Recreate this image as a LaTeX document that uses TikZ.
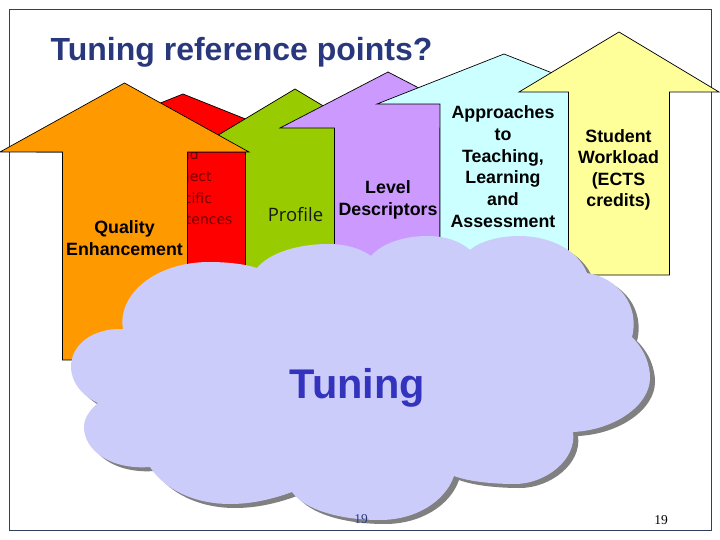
\documentclass[tikz,border=0pt]{standalone}
\usepackage{fontspec}
\setmainfont{Liberation Sans}
\newfontfamily\thinfont{Open Sans}
\newfontfamily\widefont{DejaVu Sans}
\newfontfamily\numfont{Liberation Serif}
\definecolor{titleblue}{RGB}{41,56,124}
\definecolor{framegrey}{RGB}{50,62,92}
\definecolor{tuningblue}{RGB}{51,51,190}
\definecolor{cloudfill}{RGB}{204,204,250}
\definecolor{arrowred}{RGB}{255,0,0}
\definecolor{arroworange}{RGB}{255,153,0}
\definecolor{arrowgreen}{RGB}{153,204,0}
\definecolor{arrowpurple}{RGB}{204,153,255}
\definecolor{arrowcyan}{RGB}{204,255,255}
\definecolor{arrowyellow}{RGB}{255,255,153}
\tikzset{
  refarrow/.style={draw=black, line width=0.7pt, line join=miter},
  boldlabel/.style={align=center, inner sep=0pt, font=\bfseries\fontsize{17.8}{21.6}\selectfont, text=black},
  thinlabel/.style={align=center, inner sep=0pt, font=\widefont\fontsize{14}{21.8}\selectfont},
  pagenum/.style={anchor=base, inner sep=0pt, font=\numfont\fontsize{13.5}{15}\selectfont}
}
\newcommand{\cloudoutline}{
  (123,329) .. controls (117,295) and (155,262) .. (209,262) .. controls (227,262) and (245,264) .. (257,268)
  .. controls (270,252) and (300,244) .. (328,244) .. controls (345,244) and (360,248) .. (371,256)
  .. controls (382,243) and (405,236) .. (427,236) .. controls (445,236) and (460,241) .. (470,250)
  .. controls (480,241) and (500,236) .. (519,236) .. controls (550,236) and (578,250) .. (587,273)
  .. controls (618,278) and (640,305) .. (632,337)
  .. controls (645,350) and (650,365) .. (650,378) .. controls (650,405) and (615,430) .. (573,432)
  .. controls (577,460) and (545,484) .. (515,484) .. controls (495,484) and (470,482) .. (454,476)
  .. controls (445,502) and (415,520) .. (380,520) .. controls (340,520) and (305,510) .. (292,492)
  .. controls (270,500) and (250,504) .. (230,504) .. controls (195,504) and (165,490) .. (150,467)
  .. controls (110,470) and (84,450) .. (84,427) .. controls (84,418) and (90,410) .. (98,403)
  .. controls (80,395) and (71,380) .. (71,367) .. controls (71,345) and (92,328) .. (123,329) -- cycle
}
\begin{document}
\begin{tikzpicture}[x=1pt, y=-1pt]
  \useasboundingbox (0,0) rectangle (720,540);
  \fill [white] (0,0) rectangle (720,540);

  % frame
  \draw [framegrey, line width=0.9pt] (9.5,9) -- (711,9) -- (711,530) -- (9.5,530) -- cycle;

  \node (title) [anchor=base west, inner sep=0pt, text=titleblue, font=\bfseries\fontsize{32}{34}\selectfont] at (50.5,61) {Tuning reference points?};

  % arrows, back to front
  \draw [refarrow, fill=arrowred] (183,94) -- (328,152) -- (245.5,152) -- (245.5,340) -- (120,340) -- (120,152) -- (38,152) -- cycle;
  \node (subject) [thinlabel, text=black!55!arrowred, anchor=base] at (185.5,225) {and\\Subject\\specific\\competences};

  \draw [refarrow, fill=arrowgreen] (295,89) -- (400,152) -- (345,152) -- (345,340) -- (245.5,340) -- (245.5,152) -- (190,152) -- cycle;
  \node (profile) [inner sep=0pt, anchor=base, text=black!90, font=\thinfont\fontsize{18.5}{20}\selectfont] at (295.5,222) {Profile};

  \draw [refarrow, fill=arroworange] (124.5,83) -- (249,152) -- (187.5,152) -- (187.5,360) -- (62.5,360) -- (62.5,152) -- (0,152) -- cycle;
  \node (quality) [boldlabel, anchor=base] at (124.5,255) {Quality\\Enhancement};

  \draw [refarrow, fill=arrowpurple] (388,72) -- (496,128) -- (440,128) -- (440,340) -- (334.5,340) -- (334.5,128) -- (280,128) -- cycle;
  \node (level) [boldlabel, anchor=base] at (388,215) {Level\\Descriptors};

  \draw [refarrow, fill=arrowcyan] (504,54) -- (631,104) -- (568.5,104) -- (568.5,300) -- (440,300) -- (440,104) -- (377,104) -- cycle;
  \node (approaches) [boldlabel, anchor=base] at (503,227) {Approaches\\to\\Teaching,\\Learning\\and\\Assessment};

  \draw [refarrow, fill=arrowyellow] (619,32) -- (719,92) -- (669.5,92) -- (669.5,275) -- (568.5,275) -- (568.5,92) -- (519,92) -- cycle;
  \node (workload) [boldlabel, anchor=base] at (618.5,207) {Student\\Workload\\(ECTS\\credits)};

  % cloud with its shadow
  \fill [gray, shift={(5,4)}] \cloudoutline;
  \fill [cloudfill] \cloudoutline;
  \node (tuning) [anchor=base, inner sep=0pt, text=tuningblue, font=\bfseries\fontsize{41.5}{44}\selectfont] at (357.5,398) {Tuning};

  \node (pagemid) [pagenum, text=titleblue] at (361,523) {19};
  \node (pageright) [pagenum, text=black] at (661,524) {19};
\end{tikzpicture}
\end{document}
